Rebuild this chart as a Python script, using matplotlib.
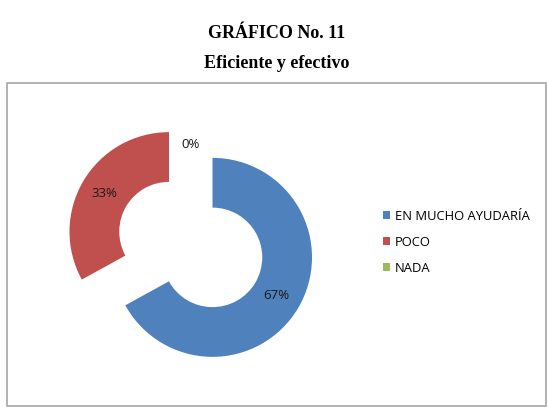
import matplotlib
matplotlib.use("Agg")
import matplotlib.pyplot as plt
from matplotlib.patches import Rectangle, Patch

categories = ["EN MUCHO AYUDARÍA", "POCO", "NADA"]
values = [67, 33, 0]
colors = ["#4F81BD", "#C0504D", "#9BBB59"]
title = "GRÁFICO No. 11"
subtitle = "Eficiente y efectivo"

W, H = 548, 417
fig = plt.figure(figsize=(W / 100, H / 100), dpi=100)

# outer chart border
fig.patches.append(Rectangle((7 / W, 1 - 406 / H), (546 - 7) / W, (406 - 83) / H,
                             transform=fig.transFigure, fill=False,
                             edgecolor="#A6A6A6", linewidth=1.2))

serif = ["Liberation Serif", "DejaVu Serif"]
fig.text(276.5 / W, 1 - 34 / H, title, ha="center", va="center",
         fontsize=13, fontweight="bold", family=serif)
fig.text(276.5 / W, 1 - 63 / H, subtitle, ha="center", va="center",
         fontsize=13, fontweight="bold", family=serif)

# pie axes: centre (190.75, 244.5) px, radius 99.5 px
cx, cy, R = 190.75, 244.5, 99.5
half = 1.5 * R
ax = fig.add_axes([(cx - half) / W, (H - cy - half) / H, 2 * half / W, 2 * half / H])
ax.pie(values, colors=colors, startangle=90, counterclock=False,
       explode=[0.254] * len(values), radius=1.0,
       autopct="%1.0f%%", pctdistance=0.75,
       wedgeprops=dict(width=0.5, edgecolor="none"),
       textprops=dict(fontsize=9.5, color="#1A1A1A", family=["Open Sans", "DejaVu Sans"]))
ax.set_xlim(-1.5, 1.5)
ax.set_ylim(-1.5, 1.5)
ax.set_aspect("equal")
ax.axis("off")

handles = [Patch(facecolor=c, edgecolor="none") for c in colors]
fig.legend(handles, categories, loc="upper left",
           bbox_to_anchor=(383 / W, 1 - 210 / H), frameon=False,
           handlelength=0.55, handleheight=0.55, handletextpad=0.35,
           labelspacing=0.98, borderaxespad=0, borderpad=0,
           prop=dict(family=["Open Sans", "DejaVu Sans"], size=9.4))

fig.savefig("out.png", dpi=100)
